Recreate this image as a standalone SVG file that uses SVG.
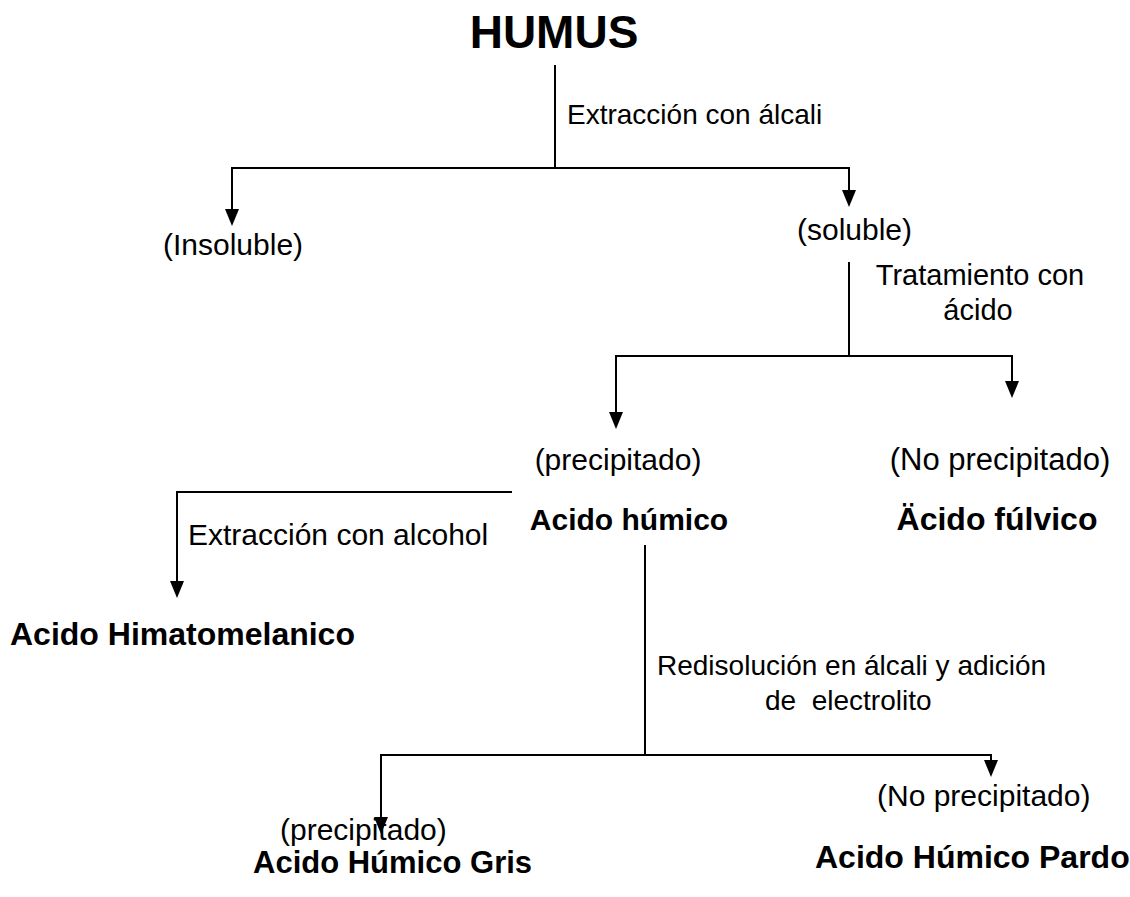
<svg xmlns="http://www.w3.org/2000/svg" width="1130" height="897" viewBox="0 0 1130 897">
<style>
text{font-family:"Liberation Sans",Arial,sans-serif;fill:#000}
.n{font-size:29px}
.p{font-size:30px}
.b{font-size:31px;font-weight:bold}
.t{font-size:46px;font-weight:bold}
.c line,.c path{stroke:#000;stroke-width:2;fill:none}
.h path{fill:#000;stroke:none}
</style>
<rect width="1130" height="897" fill="#fff"/>
<g class="c" id="connectors">
<line x1="555" y1="65" x2="555" y2="168"/>
<line x1="231" y1="168" x2="850" y2="168"/>
<path d="M232,168 V212"/>
<path d="M849,168 V193"/>
<line x1="849" y1="262" x2="849" y2="356"/>
<line x1="615" y1="356" x2="1013" y2="356"/>
<path d="M616,356 V415"/>
<path d="M1012,356 V384"/>
<line x1="512" y1="492" x2="176" y2="492"/>
<path d="M177,492 V584"/>
<line x1="645" y1="545" x2="645" y2="755"/>
<line x1="380" y1="755" x2="992" y2="755"/>
<path d="M381,755 V820"/>
<path d="M991,755 V763"/>
</g>
<g class="h" id="arrowheads">
<path d="M225,209 L239,209 L232,226 Z"/>
<path d="M842,190 L856,190 L849,207 Z"/>
<path d="M609,412 L623,412 L616,429 Z"/>
<path d="M1005,381 L1019,381 L1012,398 Z"/>
<path d="M170,581 L184,581 L177,598 Z"/>
<path d="M374,817 L388,817 L381,834 Z"/>
<path d="M984,760 L998,760 L991,777 Z"/>
</g>
<g id="humus"><text class="t" x="554" y="48" text-anchor="middle">HUMUS</text></g>
<g id="lbl-extraccion-alcali"><text class="n" x="567" y="124" style="font-size:28px">Extracción con álcali</text></g>
<g id="insoluble"><text class="p" x="163" y="255">(Insoluble)</text></g>
<g id="soluble"><text class="p" x="797" y="240">(soluble)</text></g>
<g id="lbl-tratamiento"><text class="n" x="980" y="285" text-anchor="middle">Tratamiento con</text><text class="n" x="978" y="320" text-anchor="middle">ácido</text></g>
<g id="acido-humico"><text class="p" x="618" y="470" text-anchor="middle">(precipitado)</text><text class="b" x="629" y="530" text-anchor="middle" style="font-size:30px">Acido húmico</text></g>
<g id="acido-fulvico"><text class="p" x="1000" y="470" text-anchor="middle" style="font-size:31px">(No precipitado)</text><text class="b" x="997" y="530" text-anchor="middle" style="font-size:32px">Äcido fúlvico</text></g>
<g id="lbl-extraccion-alcohol"><text class="n" x="188" y="545" style="font-size:30px">Extracción con alcohol</text></g>
<g id="himatomelanico"><text class="b" x="10" y="645" style="font-size:32px">Acido Himatomelanico</text></g>
<g id="lbl-redisolucion"><text class="n" x="657" y="675" style="font-size:28px">Redisolución en álcali y adición</text><text class="n" x="765" y="710" style="font-size:28px" xml:space="preserve">de  electrolito</text></g>
<g id="humico-gris"><text class="p" x="280" y="840">(precipitado)</text><text class="b" x="253" y="873">Acido Húmico Gris</text></g>
<g id="humico-pardo"><text class="p" x="877" y="806">(No precipitado)</text><text class="b" x="815" y="868" style="font-size:32px">Acido Húmico Pardo</text></g>
</svg>
